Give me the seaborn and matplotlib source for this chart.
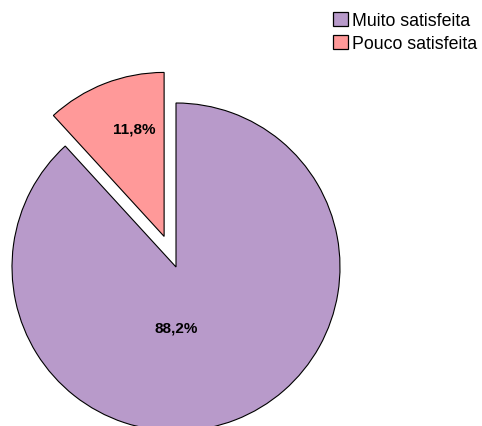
import matplotlib
matplotlib.use("Agg")
import matplotlib.pyplot as plt
import matplotlib.patches as mpatches
import seaborn as sns

categories = ["Muito satisfeita", "Pouco satisfeita"]
values = [88.2, 11.8]
labels_pct = ["88,2%", "11,8%"]
colors = ["#B89ACA", "#FF9999"]

sns.set_style("white")
plt.rcParams["font.family"] = ["Liberation Sans", "DejaVu Sans"]
plt.rcParams["text.color"] = "black"

fig = plt.figure(figsize=(4.82, 4.27), dpi=100)
ax = fig.add_axes([0, 0, 1, 1])

wedges, _ = ax.pie(values, colors=colors, startangle=90, counterclock=False,
                   explode=[0, 0.2], radius=1.0,
                   wedgeprops=dict(edgecolor="black", linewidth=0.8))
ax.set_aspect("auto")
R = 164.0
ax.set_xlim(-176 / R, (482 - 176) / R)
ax.set_ylim(-(427 - 268) / R, 268 / R)
ax.axis("off")

# label positions
ax.text(0.0, -0.37, labels_pct[0], ha="center", va="center", fontsize=11,
        fontweight="bold", color="black")
ax.text(-42 / R, (268 - 130) / R, labels_pct[1], ha="center", va="center", fontsize=11,
        fontweight="bold", color="black")

handles = [mpatches.Patch(facecolor=c, edgecolor="black", linewidth=0.9) for c in colors]
fig.legend(handles, categories, loc="upper right", bbox_to_anchor=(1.0, 0.98),
           frameon=False, fontsize=12.8, handlelength=0.82, handleheight=0.85,
           handletextpad=0.25, borderpad=0.1, labelspacing=0.32, borderaxespad=0.15,
           labelcolor="black")

fig.savefig("out.png", dpi=100)
